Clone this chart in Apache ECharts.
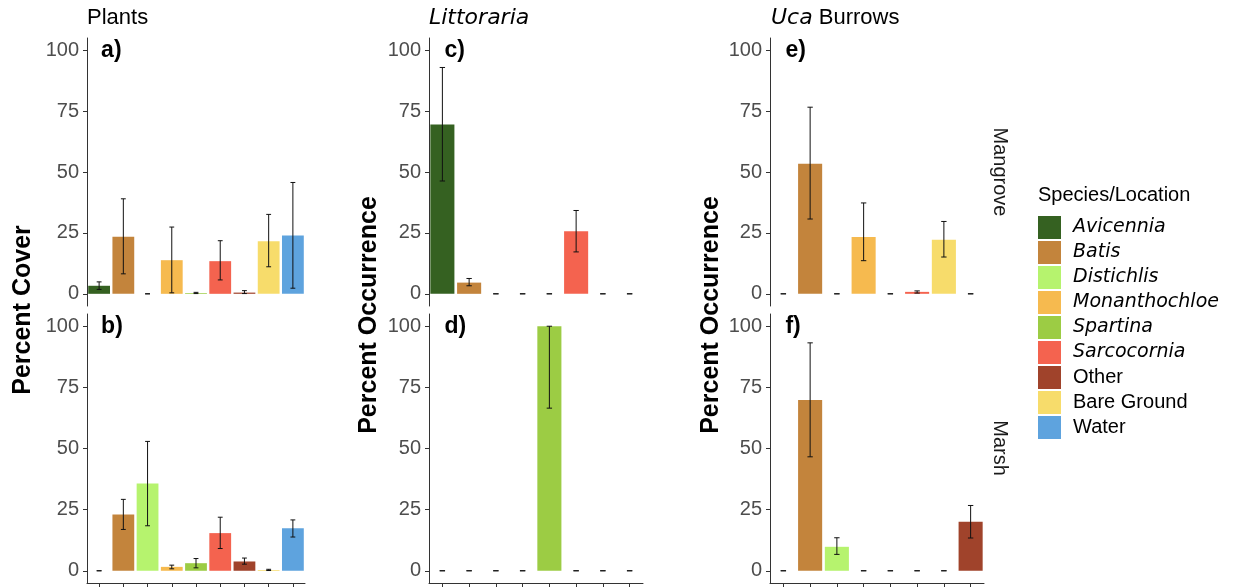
<!DOCTYPE html>
<html>
<head>
<meta charset="utf-8">
<script src="https://cdn.jsdelivr.net/npm/echarts@6/dist/echarts.min.js"></script>
<style>
  html, body { margin: 0; padding: 0; background: #fff; }
  #chart { width: 1247px; height: 587px; }
</style>
</head>
<body>
<div id="chart"></div>
<script>
// Categories on each column's x axis
const plantCats = ['Avicennia', 'Batis', 'Distichlis', 'Monanthochloe', 'Spartina', 'Sarcocornia', 'Other', 'Bare Ground', 'Water'];
const littorariaCats = ['Avicennia', 'Batis', 'Distichlis', 'Monanthochloe', 'Spartina', 'Sarcocornia', 'Other', 'Bare Ground'];
const ucaCats = ['Avicennia', 'Batis', 'Distichlis', 'Monanthochloe', 'Spartina', 'Sarcocornia', 'Bare Ground', 'Other'];

// Plants: percent cover (mean, lower and upper error bound)
const plantsMangroveMean = [3.3, 23.4, 0, 13.8, 0.3, 13.4, 0.5, 21.6, 23.9];
const plantsMangroveLow  = [1.8, 8.2, 0, 0.4, 0.1, 5.7, 0.1, 11.1, 2.3];
const plantsMangroveHigh = [4.9, 39.0, 0, 27.4, 0.6, 21.8, 1.3, 32.6, 45.7];
const plantsMarshMean = [0, 23.0, 35.7, 1.6, 3.1, 15.4, 3.8, 0.3, 17.4];
const plantsMarshLow  = [0, 16.9, 18.4, 0.8, 1.2, 9.1, 2.7, 0.1, 13.8];
const plantsMarshHigh = [0, 29.2, 52.9, 2.3, 5.0, 21.9, 5.2, 0.6, 20.8];

// Littoraria: percent occurrence
const littMangroveMean = [69.5, 4.6, 0, 0, 0, 25.7, 0, 0];
const littMangroveLow  = [46.3, 3.3, 0, 0, 0, 17.2, 0, 0];
const littMangroveHigh = [92.9, 6.3, 0, 0, 0, 34.2, 0, 0];
const littMarshMean = [0, 0, 0, 0, 100, 0, 0, 0];
const littMarshLow  = [0, 0, 0, 0, 66.5, 0, 0, 0];
const littMarshHigh = [0, 0, 0, 0, 100, 0, 0, 0];

// Uca burrows: percent occurrence
const ucaMangroveMean = [0, 53.4, 0, 23.3, 0, 0.8, 22.2, 0];
const ucaMangroveLow  = [0, 30.7, 0, 13.6, 0, 0.3, 15.1, 0];
const ucaMangroveHigh = [0, 76.6, 0, 37.3, 0, 1.2, 29.7, 0];
const ucaMarshMean = [0, 69.8, 9.8, 0, 0, 0, 0, 20.0];
const ucaMarshLow  = [0, 46.6, 6.7, 0, 0, 0, 0, 13.4];
const ucaMarshHigh = [0, 93.2, 13.5, 0, 0, 0, 0, 26.7];

const yTicks = [0, 25, 50, 75, 100];
const legendNames = ['Avicennia', 'Batis', 'Distichlis', 'Monanthochloe', 'Spartina', 'Sarcocornia', 'Other', 'Bare Ground', 'Water'];
const italicNames = ['Avicennia', 'Batis', 'Distichlis', 'Monanthochloe', 'Spartina', 'Sarcocornia'];

const palette = {
  'Avicennia': '#356121',
  'Batis': '#C3843C',
  'Distichlis': '#B6F36E',
  'Monanthochloe': '#F6BA4F',
  'Spartina': '#9CCC44',
  'Sarcocornia': '#F4634F',
  'Other': '#A0432B',
  'Bare Ground': '#F7DC6B',
  'Water': '#5EA3DE'
};

const FONT = '"Liberation Sans", Arial, sans-serif';
const ITALIC_FONT = '"DejaVu Sans", sans-serif';

// Facet layout: 3 columns x 2 rows
const colBoxes = [
  { left: 87, width: 218 },
  { left: 429, width: 214 },
  { left: 770, width: 214 }
];
const rowBoxes = [
  { top: 38, height: 268 },
  { top: 314, height: 269 }
];

const panels = [
  { col: 0, row: 0, tag: 'a)', cats: plantCats, mean: plantsMangroveMean, low: plantsMangroveLow, high: plantsMangroveHigh },
  { col: 0, row: 1, tag: 'b)', cats: plantCats, mean: plantsMarshMean, low: plantsMarshLow, high: plantsMarshHigh },
  { col: 1, row: 0, tag: 'c)', cats: littorariaCats, mean: littMangroveMean, low: littMangroveLow, high: littMangroveHigh },
  { col: 1, row: 1, tag: 'd)', cats: littorariaCats, mean: littMarshMean, low: littMarshLow, high: littMarshHigh },
  { col: 2, row: 0, tag: 'e)', cats: ucaCats, mean: ucaMangroveMean, low: ucaMangroveLow, high: ucaMangroveHigh },
  { col: 2, row: 1, tag: 'f)', cats: ucaCats, mean: ucaMarshMean, low: ucaMarshLow, high: ucaMarshHigh }
];

const grid = [], xAxis = [], yAxis = [], series = [];

panels.forEach((p, i) => {
  const c = colBoxes[p.col], r = rowBoxes[p.row];
  const bottomRow = p.row === 1;
  grid.push({ left: c.left, width: c.width, top: r.top, height: r.height, containLabel: false });
  xAxis.push({
    type: 'category', gridIndex: i, data: p.cats,
    axisLine: { show: bottomRow, onZero: false, lineStyle: { color: '#333', width: 1 } },
    axisTick: { show: bottomRow, interval: 0, alignWithLabel: true, length: 5, lineStyle: { color: '#333' } },
    axisLabel: { show: false, interval: 0 },
    splitLine: { show: false }
  });
  yAxis.push({
    type: 'value', gridIndex: i, min: -5, max: 105,
    axisLine: { show: true, onZero: false, lineStyle: { color: '#333', width: 1 } },
    axisTick: { show: true, customValues: yTicks, length: 4, lineStyle: { color: '#333' } },
    axisLabel: { show: true, customValues: yTicks, fontSize: 20, color: '#4D4D4D', fontFamily: FONT, margin: 8 },
    splitLine: { show: false }
  });
  series.push({
    type: 'bar', xAxisIndex: i, yAxisIndex: i, barWidth: '90%', silent: true,
    data: p.mean.map((v, k) => ({ value: v, itemStyle: { color: palette[p.cats[k]] } }))
  });
  series.push({
    type: 'custom', xAxisIndex: i, yAxisIndex: i, silent: true, z: 5,
    dimensions: ['x', 'low', 'high'],
    encode: { x: 0, y: [1, 2] },
    data: p.mean.map((v, k) => [k, p.low[k], p.high[k]]),
    renderItem: function (params, api) {
      const x = api.value(0);
      const lo = api.coord([x, api.value(1)]);
      const hi = api.coord([x, api.value(2)]);
      const half = api.size([1, 0])[0] * 0.1;
      const st = { stroke: '#111', lineWidth: 1 };
      return {
        type: 'group',
        children: [
          { type: 'line', shape: { x1: lo[0], y1: lo[1], x2: hi[0], y2: hi[1] }, style: st },
          { type: 'line', shape: { x1: hi[0] - half, y1: hi[1], x2: hi[0] + half, y2: hi[1] }, style: st },
          { type: 'line', shape: { x1: lo[0] - half, y1: lo[1], x2: lo[0] + half, y2: lo[1] }, style: st }
        ]
      };
    }
  });
  // panel tag, anchored at the first category near the top of the axis
  series.push({
    type: 'scatter', xAxisIndex: i, yAxisIndex: i, silent: true, symbolSize: 0,
    itemStyle: { opacity: 1 },
    data: [[0, 100]],
    label: {
      show: true, position: 'right', distance: 2, formatter: p.tag, opacity: 1,
      fontSize: 23, fontWeight: 'bold', color: '#000', fontFamily: FONT
    }
  });
});

// Empty series that only feed the legend
legendNames.forEach(name => {
  series.push({ type: 'scatter', name: name, xAxisIndex: 0, yAxisIndex: 0, data: [], itemStyle: { color: palette[name], opacity: 1 } });
});

function txt(text, x, y, font, extra) {
  return Object.assign({
    type: 'text', x: x, y: y, silent: true,
    style: Object.assign({ text: text, x: 0, y: 0, font: font, fill: '#000',
      align: 'left', verticalAlign: 'middle', textAlign: 'left', textVerticalAlign: 'middle' }, (extra && extra.style) || {})
  }, (extra && extra.el) || {});
}

const centreStyle = { align: 'center', textAlign: 'center' };

const graphic = [
  txt('Plants', 87, 18, '22px ' + FONT),
  txt('Littoraria', 429, 18, 'italic 22px ' + ITALIC_FONT),
  {
    type: 'text', x: 771, y: 18, silent: true,
    style: {
      text: '{i|Uca} Burrows', x: 0, y: 0, font: '22px ' + FONT, fill: '#000',
      align: 'left', verticalAlign: 'middle', textAlign: 'left', textVerticalAlign: 'middle',
      rich: { i: { fontStyle: 'italic', fontFamily: ITALIC_FONT, fontSize: 22, fill: '#000', color: '#000' } }
    }
  },
  txt('Percent Cover', 23, 310, 'bold 25px ' + FONT, { style: centreStyle, el: { rotation: Math.PI / 2 } }),
  txt('Percent Occurrence', 369, 315, 'bold 25px ' + FONT, { style: centreStyle, el: { rotation: Math.PI / 2 } }),
  txt('Percent Occurrence', 711, 315, 'bold 25px ' + FONT, { style: centreStyle, el: { rotation: Math.PI / 2 } }),
  txt('Mangrove', 1000, 172, '20px ' + FONT, { style: Object.assign({ fill: '#1A1A1A' }, centreStyle), el: { rotation: -Math.PI / 2 } }),
  txt('Marsh', 1000, 448, '20px ' + FONT, { style: Object.assign({ fill: '#1A1A1A' }, centreStyle), el: { rotation: -Math.PI / 2 } }),
  txt('Species/Location', 1038, 195, '20px ' + FONT)
];

const chart = echarts.init(document.getElementById('chart'), null, { renderer: 'canvas' });
chart.setOption({
  animation: false,
  backgroundColor: '#fff',
  grid: grid,
  xAxis: xAxis,
  yAxis: yAxis,
  series: series,
  graphic: graphic,
  legend: {
    data: legendNames.map(n => ({ name: n, icon: 'rect' })),
    orient: 'vertical',
    left: 1038, top: 216, padding: 0,
    itemWidth: 23, itemHeight: 23, itemGap: 2,
    selectedMode: false,
    formatter: name => italicNames.indexOf(name) >= 0 ? '{it|' + name + '}' : '{n|' + name + '}',
    textStyle: {
      padding: [0, 0, 0, 7],
      rich: {
        it: { fontStyle: 'italic', fontFamily: ITALIC_FONT, fontSize: 19, color: '#000' },
        n: { fontFamily: FONT, fontSize: 20, color: '#000' }
      }
    }
  }
});
</script>
</body>
</html>
